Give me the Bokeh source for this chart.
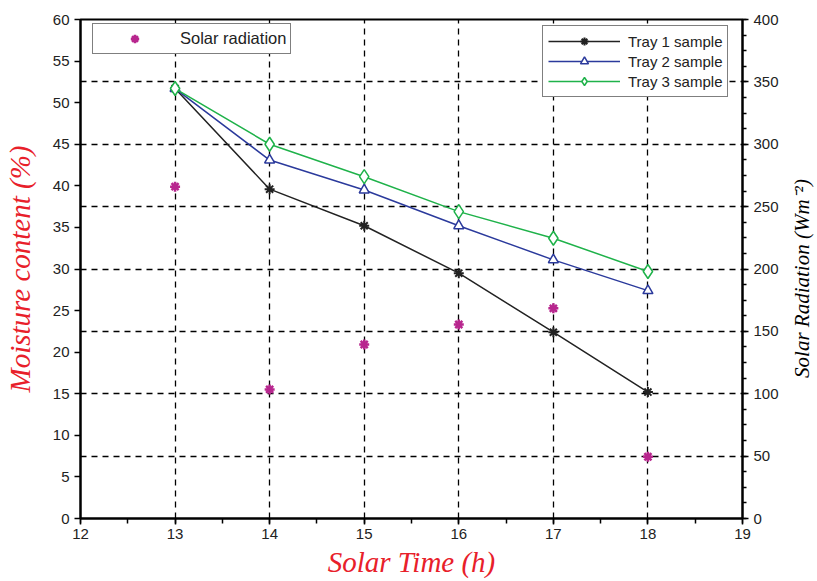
import math
from bokeh.plotting import figure
from bokeh.layouts import row
from bokeh.models import (Range1d, LinearAxis, SingleIntervalTicker, FixedTicker, Grid,
                          Legend, LegendItem, Label)
from bokeh.embed import file_html
from bokeh.resources import INLINE

# data
hours = [13, 14, 15, 16, 17, 18]
tray1 = [51.7, 39.6, 35.2, 29.5, 22.4, 15.2]
tray2 = [51.7, 43.1, 39.5, 35.2, 31.1, 27.4]
tray3 = [51.7, 45.0, 41.1, 36.9, 33.7, 29.7]
solar = [266, 103.5, 139.5, 155.5, 168.5, 49.5]
solar_grid = [50, 100, 150, 200, 250, 300, 350]

RED = "#e8202a"
BLUE = "#2b3a9c"
GREEN = "#1fb24a"
MAG = "#b8268e"
TICK_FONT = "Liberation Sans"
SERIF = "Liberation Serif"

p = figure(frame_width=662, frame_height=499, output_backend="svg", toolbar_location=None,
           x_range=Range1d(12, 19), y_range=Range1d(0, 60),
           min_border_left=79, min_border_right=36, min_border_top=19, min_border_bottom=0)
p.extra_y_ranges = {"rad": Range1d(0, 400)}

p.outline_line_color = "black"
p.outline_line_width = 2
p.background_fill_color = "white"
p.border_fill_color = "white"

# axes
p.xaxis.ticker = SingleIntervalTicker(interval=1, num_minor_ticks=2)
p.yaxis.ticker = SingleIntervalTicker(interval=5, num_minor_ticks=0)
for ax in (p.xaxis[0], p.yaxis[0]):
    ax.axis_line_width = 2
    ax.major_tick_line_width = 1.5
    ax.minor_tick_line_width = 1.5
    ax.major_tick_out = 6
    ax.major_tick_in = 0
    ax.minor_tick_out = 5
    ax.minor_tick_in = 0
    ax.major_label_text_font = TICK_FONT
    ax.major_label_text_font_size = "15px"
    ax.major_label_text_color = "#222222"
    ax.axis_label_text_font = SERIF
    ax.axis_label_text_font_style = "italic"
    ax.axis_label_text_font_size = "29px"
    ax.axis_label_text_color = RED

p.xaxis.axis_label = "Solar Time (h)"
p.yaxis.axis_label = "Moisture content (%)"
p.xaxis.axis_label_standoff = 4
p.xaxis.major_label_standoff = 4
p.yaxis.axis_label_standoff = 14

rax = LinearAxis(y_range_name="rad", ticker=SingleIntervalTicker(interval=50, num_minor_ticks=4))
rax.axis_line_width = 2
rax.major_tick_line_width = 1.5
rax.minor_tick_line_width = 1.5
rax.major_tick_out = 6
rax.major_tick_in = 0
rax.minor_tick_out = 4
rax.minor_tick_in = 0
rax.major_label_text_font = TICK_FONT
rax.major_label_text_font_size = "15px"
rax.major_label_text_color = "#222222"
p.add_layout(rax, "right")

# grids
p.xgrid.ticker = FixedTicker(ticks=hours)
p.xgrid.grid_line_color = "black"
p.xgrid.grid_line_dash = "6 5"
p.xgrid.grid_line_width = 1.3
p.ygrid.visible = False
g = Grid(dimension=1, ticker=FixedTicker(ticks=solar_grid), y_range_name="rad",
         grid_line_color="black", grid_line_dash="6 5", grid_line_width=1.3)
p.add_layout(g)

# series
l1 = p.line(hours, tray1, color="#222222", line_width=1.5)
m1 = p.scatter(hours, tray1, marker="asterisk", size=10, line_color="#222222", line_width=2)
l2 = p.line(hours, tray2, color=BLUE, line_width=1.5)
m2 = p.scatter(hours, tray2, marker="triangle", size=10, line_color=BLUE, fill_color="white",
               line_width=1.5)
l3 = p.line(hours, tray3, color=GREEN, line_width=1.5)
m3 = p.scatter(hours, tray3, marker="diamond", size=14, line_color=GREEN, fill_color="white",
               line_width=1.5)
ms = p.scatter(hours, solar, y_range_name="rad", marker="asterisk", size=10, line_color=MAG,
               line_width=2.5)

def style_legend(lg, fs):
    lg.border_line_color = "black"
    lg.border_line_width = 1.5
    lg.background_fill_alpha = 1
    lg.label_text_font = TICK_FONT
    lg.label_text_font_size = fs
    lg.label_text_color = "#222222"
    lg.glyph_width = 72
    lg.spacing = 0
    lg.padding = 5
    lg.label_height = 20
    lg.glyph_height = 20
    lg.label_standoff = 8

leg1 = Legend(items=[LegendItem(label="Solar radiation", renderers=[ms])],
              location=(12, 464))
style_legend(leg1, "16.5px")
leg1.padding = 4
leg1.label_height = 21
leg1.glyph_height = 21
leg1.glyph_width = 75
leg2 = Legend(items=[LegendItem(label="Tray 1 sample", renderers=[l1, m1]),
                     LegendItem(label="Tray 2 sample", renderers=[l2, m2]),
                     LegendItem(label="Tray 3 sample", renderers=[l3, m3])],
              location=(462, 421))
style_legend(leg2, "15px")
leg2.padding = 5
p.add_layout(leg1, "center")
p.add_layout(leg2, "center")

# right-hand axis title, in its own narrow strip
p2 = figure(frame_width=34, frame_height=499, output_backend="svg", toolbar_location=None,
            x_range=Range1d(0, 34), y_range=Range1d(0, 499),
            x_axis_location=None, y_axis_location=None,
            min_border_left=0, min_border_right=0, min_border_top=19, min_border_bottom=0)
p2.outline_line_color = None
p2.xgrid.visible = False
p2.ygrid.visible = False
p2.add_layout(Label(x=20, y=240, x_units="screen", y_units="screen",
                    text="Solar Radiation (Wm⁻²)", angle=math.pi / 2,
                    text_align="center", text_baseline="middle",
                    text_font=SERIF, text_font_style="italic", text_font_size="21px",
                    text_color="black"))

layout = row(p, p2, spacing=0)
open("out.html", "w").write(file_html(layout, INLINE))
